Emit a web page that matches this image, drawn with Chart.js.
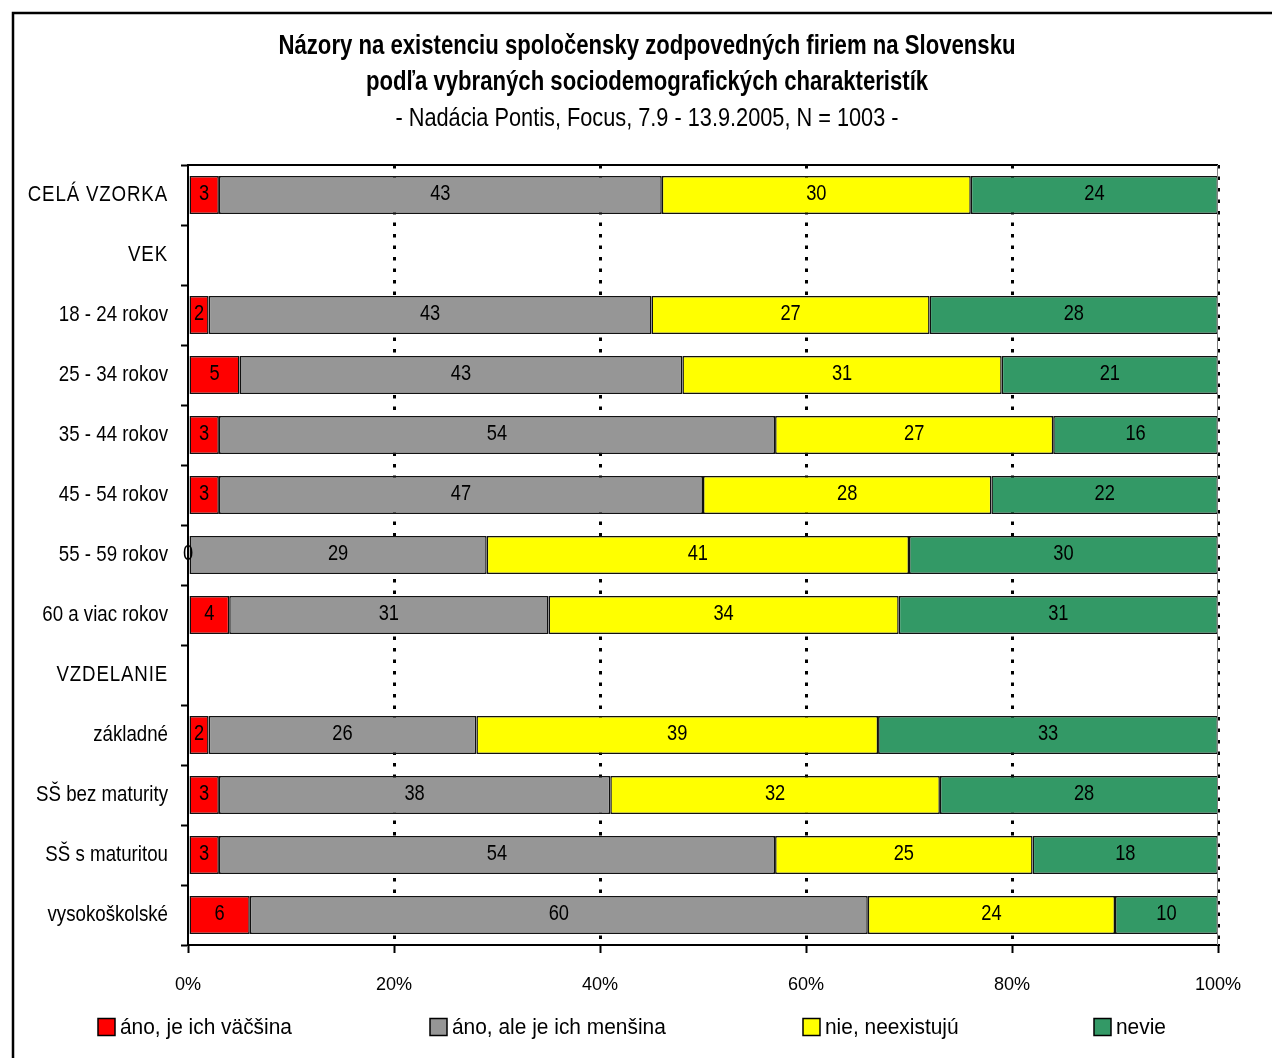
<!DOCTYPE html>
<html>
<head>
<meta charset="utf-8">
<title>Názory na existenciu spoločensky zodpovedných firiem na Slovensku</title>
<script src="https://cdn.jsdelivr.net/npm/chart.js@4/dist/chart.umd.min.js"></script>
<style>
  html, body { margin: 0; padding: 0; background: #ffffff; }
  #wrap { width: 1272px; height: 1058px; position: relative; }
</style>
</head>
<body>
<div id="wrap"><canvas id="c" width="1272" height="1058"></canvas></div>
<script>
// Rows of the chart (header rows VEK / VZDELANIE carry no bars)
const categories = [
  'CELÁ VZORKA', 'VEK', '18 - 24 rokov', '25 - 34 rokov', '35 - 44 rokov',
  '45 - 54 rokov', '55 - 59 rokov', '60 a viac rokov', 'VZDELANIE',
  'základné', 'SŠ bez maturity', 'SŠ s maturitou', 'vysokoškolské'
];

const seriesNames = ['áno, je ich väčšina', 'áno, ale je ich menšina', 'nie, neexistujú', 'nevie'];

// Shares in percent
const anoVacsina    = [3,  null, 2,  5,  3,  3,  0,  4,  null, 2,  3,  3,  6];
const anoMensina    = [43, null, 43, 43, 54, 47, 29, 31, null, 26, 38, 54, 60];
const nieNeexistuju = [30, null, 27, 31, 27, 28, 41, 34, null, 39, 32, 25, 24];
const nevie         = [24, null, 28, 21, 16, 22, 30, 31, null, 33, 28, 18, 10];

const xTickValues = [0, 20, 40, 60, 80, 100];

const titleLines = [
  'Názory na existenciu spoločensky zodpovedných firiem na Slovensku',
  'podľa vybraných sociodemografických charakteristík'
];
const subtitleText = '- Nadácia Pontis, Focus, 7.9 - 13.9.2005, N = 1003 -';

const seriesColors = ['#ff0000', '#969696', '#ffff00', '#339966'];

const FONT = "'Liberation Sans', Arial, sans-serif";
Chart.defaults.font.family = FONT;
Chart.defaults.color = '#000000';

// Text helper: draws narrow (horizontally condensed) lettering around its anchor
function drawText(ctx, text, x, y, font, squeeze, align, spacing) {
  ctx.save();
  ctx.font = font;
  ctx.fillStyle = '#000000';
  ctx.textAlign = align;
  ctx.textBaseline = 'middle';
  if (spacing) ctx.letterSpacing = spacing;
  ctx.translate(x, y);
  ctx.scale(squeeze, 1);
  ctx.fillText(text, 0, 0);
  ctx.restore();
}

// Outer frame, heading, axis lettering, legend and the plot's top/right edges
const decorPlugin = {
  id: 'decor',
  beforeDraw(chart) {
    const ctx = chart.ctx;
    ctx.save();
    ctx.fillStyle = '#ffffff';
    ctx.fillRect(0, 0, chart.width, chart.height);
    ctx.restore();
  },
  afterDraw(chart) {
    const ctx = chart.ctx;
    const a = chart.chartArea;
    ctx.save();
    // frame
    ctx.strokeStyle = '#000000';
    ctx.lineWidth = 2.5;
    ctx.beginPath();
    ctx.moveTo(13, chart.height + 2);
    ctx.lineTo(13, 13);
    ctx.lineTo(chart.width + 2, 13);
    ctx.stroke();
    // plot top edge
    ctx.lineWidth = 2;
    ctx.beginPath();
    ctx.moveTo(a.left, a.top);
    ctx.lineTo(a.right, a.top);
    ctx.stroke();
    // plot right edge
    ctx.strokeStyle = '#808080';
    ctx.lineWidth = 1;
    ctx.beginPath();
    ctx.moveTo(a.right - 0.5, a.top);
    ctx.lineTo(a.right - 0.5, a.bottom);
    ctx.stroke();
    ctx.restore();

    // heading
    const cx = 647;
    drawText(ctx, titleLines[0], cx, 47, 'bold 27px ' + FONT, 0.82, 'center');
    drawText(ctx, titleLines[1], cx, 83, 'bold 27px ' + FONT, 0.82, 'center');
    drawText(ctx, subtitleText, cx, 119, '26.5px ' + FONT, 0.82, 'center');

    // category labels on the y scale
    const yScale = chart.scales.y;
    categories.forEach((name, i) => {
      const y = yScale.getPixelForValue(i);
      const upper = name === name.toUpperCase();
      drawText(ctx, name, a.left - 20, y, '22px ' + FONT, 0.85, 'right', upper ? '1px' : null);
    });

    // percent labels on the x scale
    const xScale = chart.scales.x;
    xTickValues.forEach(v => {
      drawText(ctx, v + '%', xScale.getPixelForValue(v), 985, '19px ' + FONT, 0.95, 'center');
    });

    // legend
    const legendX = [98, 430, 803, 1094];
    const legendY = 1027;
    chart.data.datasets.forEach((ds, i) => {
      const x = legendX[i];
      ctx.save();
      ctx.fillStyle = ds.backgroundColor;
      ctx.fillRect(x, legendY - 8.5, 17, 17);
      ctx.strokeStyle = '#000000';
      ctx.lineWidth = 1.5;
      ctx.strokeRect(x, legendY - 8.5, 17, 17);
      ctx.restore();
      drawText(ctx, ds.label, x + 22, legendY + 1, '22px ' + FONT, 0.95, 'left');
    });
  }
};

// Value written in the middle of each segment
const valueLabelPlugin = {
  id: 'valueLabels',
  afterDatasetsDraw(chart) {
    const ctx = chart.ctx;
    chart.data.datasets.forEach((ds, di) => {
      const meta = chart.getDatasetMeta(di);
      meta.data.forEach((el, i) => {
        const v = ds.data[i];
        if (v === null || v === undefined) return;
        const cx = (el.x + el.base) / 2;
        drawText(ctx, String(v), cx, el.y - 1, '21.5px ' + FONT, 0.85, 'center');
      });
    });
  }
};

const datasets = [anoVacsina, anoMensina, nieNeexistuju, nevie].map((values, i) => ({
  label: seriesNames[i],
  data: values,
  backgroundColor: seriesColors[i],
  borderColor: '#111111',
  borderWidth: 1.5,
  borderSkipped: false,
  barPercentage: 0.633,
  categoryPercentage: 1
}));

new Chart(document.getElementById('c'), {
  type: 'bar',
  data: { labels: categories, datasets },
  options: {
    indexAxis: 'y',
    responsive: false,
    animation: false,
    layout: { padding: { left: 12, right: 54, top: 165, bottom: 0 } },
    plugins: {
      legend: { display: false },
      title: { display: false },
      tooltip: { enabled: false }
    },
    scales: {
      x: {
        stacked: true,
        min: 0,
        max: 100,
        afterBuildTicks(scale) {
          scale.ticks = xTickValues.map(v => ({ value: v }));
        },
        afterFit(scale) { scale.height = 113; },
        ticks: {
          display: false,
          callback: v => v + '%'
        },
        grid: {
          color: c => (c.tick && c.tick.value > 0) ? '#000000' : 'rgba(0,0,0,0)',
          lineWidth: 3,
          drawTicks: true,
          tickLength: 8,
          tickColor: '#000000',
          tickWidth: 2,
          tickBorderDash: []
        },
        border: { display: true, color: '#000000', width: 2, dash: [3.5, 8] }
      },
      y: {
        stacked: true,
        afterFit(scale) { scale.width = 176; },
        ticks: { display: false, autoSkip: false },
        grid: {
          offset: true,
          drawOnChartArea: false,
          drawTicks: true,
          tickLength: 7,
          tickColor: '#000000',
          tickWidth: 2
        },
        border: { display: true, color: '#000000', width: 2 }
      }
    }
  },
  plugins: [decorPlugin, valueLabelPlugin]
});
</script>
</body>
</html>
